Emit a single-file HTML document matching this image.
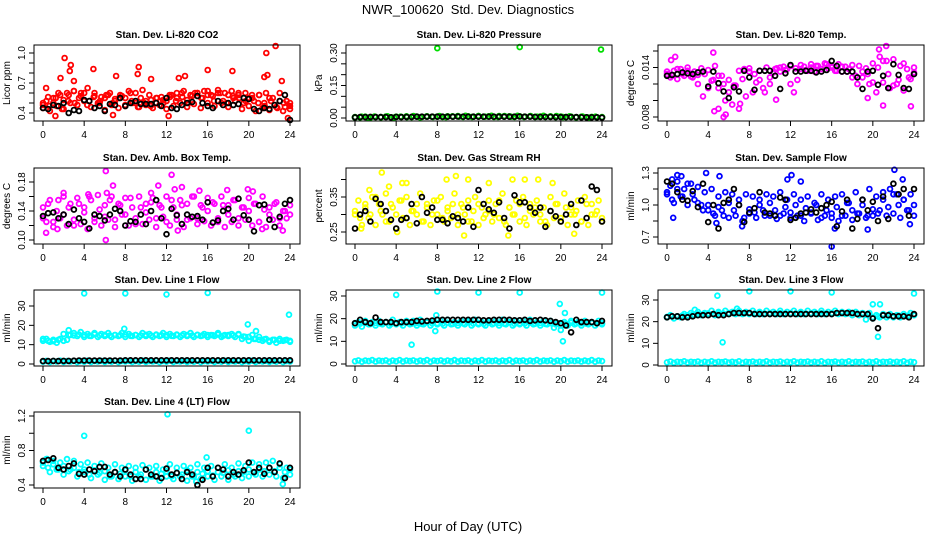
<!DOCTYPE html>
<html><head><meta charset="utf-8">
<style>
html,body{margin:0;padding:0;background:#fff;}
svg{display:block;font-family:"Liberation Sans",sans-serif;}
</style></head>
<body>
<svg id="chart" width="936" height="540" viewBox="0 0 936 540" xmlns="http://www.w3.org/2000/svg">
<rect x="0" y="0" width="936" height="540" fill="#fff"/>
<text x="468" y="14" text-anchor="middle" font-size="13" xml:space="preserve">NWR_100620  Std. Dev. Diagnostics</text>
<text x="468" y="531" text-anchor="middle" font-size="13">Hour of Day (UTC)</text>
</svg>
<script>
const xTicks = [0,4,8,12,16,20,24];
const xTickLabels = ["0","4","8","12","16","20","24"];

// CO2
const co2Color = [0.45,0.52,0.42,0.55,0.47,0.58,0.44,0.6,0.5,0.62,0.48,0.57,0.52,0.65,0.46,0.6,0.5,0.56,0.43,0.58,0.48,0.54,0.45,0.57,0.47,0.62,0.5,0.6,0.46,0.63,0.52,0.58,0.45,0.55,0.48,0.53,0.44,0.56,0.47,0.6,0.5,0.62,0.46,0.58,0.49,0.6,0.45,0.62,0.5,0.58,0.47,0.63,0.5,0.6,0.46,0.62,0.52,0.58,0.44,0.6,0.47,0.55,0.42,0.58,0.45,0.6,0.43,0.55,0.46,0.6,0.42,0.52,0.44];
const co2Color2 = [0.5,0.47,0.55,0.44,0.52,0.5,0.6,0.48,0.56,0.52,0.58,0.5,0.55,0.48,0.52,0.46,0.5,0.47,0.55,0.5,0.58,0.52,0.56,0.5,0.6,0.55,0.58,0.52,0.6,0.5,0.57,0.55,0.52,0.58,0.5,0.47,0.52,0.45,0.5,0.47];
const co2Color3 = [0.48,0.56,0.5,0.6,0.53,0.58,0.62,0.55,0.6,0.52,0.57,0.5,0.55,0.6,0.52,0.58,0.55,0.6,0.5,0.55,0.48,0.53,0.5,0.56,0.52,0.58,0.55,0.6,0.53,0.57,0.6,0.55,0.62,0.57,0.6,0.52,0.58,0.55,0.6,0.5,0.55,0.52,0.58,0.5,0.55,0.48,0.52,0.46,0.5];
const co2OutHours = [2.1,2.7,2.6,4.9,1.7,3.0,7.1,9.3,9.2,10.5,16,18.4,21.7,22.6,21.8,21.5,13.2,13.8,0.3,23.2,12.2,23.8,1.2,6.8];
const co2OutVals = [0.95,0.88,0.82,0.84,0.75,0.72,0.77,0.86,0.79,0.74,0.83,0.82,1.0,1.07,0.78,0.76,0.75,0.77,0.65,0.72,0.37,0.35,0.37,0.38];
const co2Black = [0.45,0.44,0.48,0.47,0.5,0.4,0.43,0.42,0.53,0.52,0.45,0.47,0.42,0.49,0.48,0.55,0.47,0.5,0.52,0.49,0.49,0.49,0.5,0.47,0.55,0.45,0.44,0.48,0.5,0.51,0.57,0.5,0.47,0.45,0.52,0.48,0.5,0.48,0.49,0.55,0.54,0.44,0.42,0.45,0.44,0.48,0.52,0.58,0.33];

// Pressure
const presColor = [0.002,0.006,0.001,0.007,0.003,0.008,0.002,0.006,0.004,0.009,0.003,0.007,0.005,0.009,0.004,0.008,0.006,0.01,0.005,0.009,0.006,0.01,0.005,0.009,0.006,0.01,0.005,0.009,0.006,0.01,0.006,0.009,0.004,0.008,0.003,0.007,0.002,0.006,0.003];
const presColor2 = [0.004,0.003,0.006,0.002,0.005,0.004,0.007,0.003,0.006,0.005,0.008,0.004,0.007,0.005,0.008,0.006,0.007,0.005,0.008,0.006,0.009,0.005,0.008,0.006,0.009,0.006,0.008,0.005,0.009,0.006,0.008,0.005,0.008,0.006,0.008,0.005,0.007,0.005,0.008,0.004,0.007,0.004,0.006,0.003,0.006,0.003,0.005,0.003,0.004];
const presOutHours = [8.0,16.0,23.9];
const presOutVals = [0.322,0.327,0.316];
const presBlack = [0.003,0.004,0.004,0.005,0.004,0.004,0.004,0.003,0.005,0.004,0.005,0.005,0.006,0.006,0.006,0.006,0.006,0.006,0.006,0.006,0.007,0.006,0.006,0.006,0.006,0.006,0.006,0.006,0.006,0.006,0.006,0.006,0.007,0.006,0.006,0.005,0.005,0.005,0.005,0.004,0.004,0.004,0.004,0.004,0.003,0.003,0.003,0.003,0.002];

// Li-820 temp (x 0.001)
const tempColor = [13.2,12.8,13.6,12.6,13.8,13,14,12.9,13.5,13.1,13.9,13.2,13.7,12.4,14.2,11.5,13,10,12.5,9.5,11.8,9,12.6,10.5,13.5,11,12.2,13.6,11.5,14,12.8,13.4,13.9,13.5,14.1,13.8,12,11,12.5,13.8,14.1,13.6,14.4,13.5,14.2,13.8,14.5,13.9,14.2,13.6,14.4,13.5,14.1,13.8,14.3,13,14.2,12.8,13.9,12,14.5,11,15.3,12.2,14.8,11.5,15,12,14.2,11.2,13.8,12.6,13.4];
const tempColor2 = [13.5,13,13.8,13.2,13.6,12.8,12,10.5,11.5,12.5,13,12,11,11.8,13.6,13.8,13.9,13.2,12.5,11,12,13.8,14,13.7,14.2,13.9,14.3,13.7,14,14.2,13.8,14.4,14,13.6,14.1,13.5,12.8,12,13.5,13.2,12.2,14,14.8,13.2,11.8,12.5,14.5,12.8,14];
const tempOutHours = [4.6,5.7,4.5,20.6,21.3,21.0,23.7,7.1,0.4,0.8,5.0,5.5,10.6,19.5];
const tempOutVals = [8.7,8.3,15.8,16.2,16.6,9.4,9.3,9.6,14.9,15.3,9.0,8.0,10.1,10.3];
const tempBlack = [13,13.1,13.2,13.4,13.3,13.2,13.4,13.5,11.7,13.5,12.1,11.1,10.3,11.6,11.1,13.6,12.8,11.3,13.6,13.6,13.6,13.0,11.4,13.3,14.3,13.5,13.5,13.6,13.6,13.4,13.5,13.7,14.8,14.2,13.5,13.5,13.5,12.8,11.4,13.5,13.6,11.9,13,11.5,14.4,13.1,11.5,11.4,13.2];

// Amb box temp
const ambColor = [0.145,0.125,0.155,0.118,0.14,0.13,0.16,0.12,0.15,0.128,0.158,0.122,0.145,0.115,0.155,0.13,0.162,0.12,0.148,0.128,0.16,0.118,0.15,0.135,0.158,0.12,0.145,0.13,0.16,0.122,0.15,0.128,0.158,0.118,0.148,0.132,0.16,0.12,0.145,0.128,0.155,0.118,0.15,0.13,0.16,0.122,0.148,0.126,0.158,0.12,0.15,0.13,0.16,0.118,0.148,0.125,0.155,0.12,0.145,0.128,0.158,0.12,0.15,0.125,0.16,0.118,0.145,0.128,0.152,0.12,0.14,0.13,0.148];
const ambColor2 = [0.13,0.15,0.125,0.155,0.135,0.145,0.12,0.15,0.138,0.16,0.125,0.142,0.132,0.155,0.128,0.148,0.135,0.158,0.122,0.145,0.138,0.152,0.13,0.145,0.125,0.155,0.135,0.148,0.128,0.16,0.13,0.145,0.14,0.152,0.125,0.148,0.135,0.155,0.13,0.145,0.14,0.15,0.125,0.142,0.135,0.15,0.13,0.14,0.135];
const ambOutHours = [6.1,12.5,11.2,13.5,12.8,19.9,17.9,4.4,6.8,6.2,2.0,0.3,6.1,13.1,21.3,23.3,1.4,10.5,15.2,20.4];
const ambOutVals = [0.195,0.19,0.175,0.173,0.17,0.17,0.169,0.163,0.175,0.165,0.165,0.11,0.10,0.113,0.115,0.113,0.115,0.165,0.168,0.167];
const ambBlack = [0.133,0.137,0.138,0.130,0.135,0.122,0.142,0.13,0.125,0.116,0.135,0.133,0.127,0.135,0.143,0.14,0.12,0.126,0.125,0.135,0.122,0.14,0.155,0.13,0.108,0.143,0.134,0.122,0.135,0.132,0.133,0.128,0.152,0.124,0.127,0.14,0.143,0.128,0.157,0.134,0.128,0.112,0.148,0.149,0.128,0.118,0.132,0.15,0.155];

// RH
const rhColor = [0.3,0.34,0.27,0.32,0.29,0.35,0.27,0.33,0.3,0.36,0.28,0.32,0.26,0.34,0.29,0.35,0.27,0.31,0.3,0.36,0.28,0.33,0.27,0.34,0.3,0.35,0.28,0.32,0.29,0.36,0.27,0.33,0.3,0.34,0.28,0.35,0.27,0.32,0.3,0.34,0.28,0.33,0.29,0.36,0.27,0.32,0.3,0.34,0.28,0.35,0.27,0.33,0.3,0.34,0.28,0.32,0.27,0.35,0.29,0.33,0.28,0.36,0.27,0.32,0.3,0.34,0.28,0.35,0.27,0.33,0.3,0.34,0.28];
const rhColor2 = [0.31,0.29,0.33,0.3,0.35,0.31,0.28,0.33,0.3,0.34,0.29,0.31,0.33,0.28,0.32,0.3,0.34,0.29,0.31,0.33,0.3,0.32,0.28,0.31,0.33,0.29,0.31,0.3,0.34,0.28,0.32,0.3,0.33,0.29,0.31,0.32,0.3,0.28,0.31,0.33,0.29,0.32,0.3,0.31,0.28,0.33,0.3,0.31,0.29];
const rhOutHours = [2.6,9.8,8.9,5.0,4.6,11.0,13.0,15.3,16.5,17.8,19.2,1.4,3.3,10.6,14.9,21.3,0.6,4.1];
const rhOutVals = [0.42,0.41,0.40,0.39,0.39,0.40,0.39,0.40,0.40,0.40,0.39,0.37,0.38,0.24,0.24,0.245,0.26,0.25];
const rhBlack = [0.26,0.30,0.31,0.28,0.345,0.33,0.31,0.285,0.26,0.285,0.29,0.33,0.275,0.35,0.305,0.32,0.285,0.285,0.275,0.295,0.29,0.28,0.32,0.265,0.37,0.33,0.315,0.305,0.335,0.29,0.26,0.355,0.335,0.335,0.32,0.305,0.32,0.265,0.31,0.295,0.28,0.30,0.33,0.27,0.34,0.29,0.38,0.37,0.28];

// Sample flow
const sfColor = [1.1,1.18,1.02,1.22,1.08,1.15,1.0,1.2,1.05,1.17,1.0,1.12,0.95,1.15,0.9,1.08,0.95,1.12,0.88,1.1,0.9,1.05,0.85,1.1,0.92,1.08,0.88,1.05,0.95,1.1,0.9,1.08,0.87,1.12,0.92,1.05,0.88,1.1,0.9,1.05,0.85,1.08,0.92,1.02,0.86,1.1,0.9,1.05,0.88,1.08,0.85,1.1,0.9,1.02,0.86,1.12,0.92,1.05,0.88,1.15,0.9,1.08,0.95,1.12,0.9,1.15,0.92,1.1,0.88,1.05,0.95,1.1,0.9];
const sfColor2 = [1.12,1.05,1.15,1.08,1.2,1.1,1.02,0.95,1.0,0.92,0.98,0.9,1.02,0.95,1.0,0.88,0.96,0.93,1.0,0.9,1.02,0.95,0.9,0.98,0.93,1.0,0.9,0.97,0.93,1.0,0.88,0.95,0.92,0.98,0.9,1.02,0.95,0.92,1.0,0.9,0.96,0.92,1.05,0.98,1.1,1.0,1.05,0.95,1.0];
const sfOutHours = [0.5,1.0,1.4,3.8,5.1,12.1,11.7,22.1,22.9,16.0,16.3,19.5,4.8,13.0,7.3,0.6,23.6];
const sfOutVals = [1.24,1.28,1.27,1.3,1.27,1.28,1.24,1.33,1.24,0.61,0.78,0.77,0.83,1.22,0.8,0.88,0.82];
const sfBlack = [1.22,1.2,1.12,1.05,1.04,1.13,0.98,1.2,0.84,1.0,0.78,1.02,1.05,1.15,1.0,0.84,0.93,0.97,1.12,0.93,0.92,0.9,1.07,1.05,0.86,0.88,0.92,0.93,0.96,0.93,0.97,1.0,1.03,0.8,0.94,1.05,0.78,0.87,1.05,0.95,1.03,0.85,1.08,0.87,1.2,1.1,1.15,0.9,1.15];

// Low-band values shared by line flows (ml/min)
const lowBand = [1.2,1.6,1.0,1.5,1.3,1.7,1.1,1.5,1.3,1.6,1.0,1.5,1.2,1.7,1.1,1.5,1.3,1.6,1.1,1.5,1.2,1.7,1.0,1.5,1.3,1.6,1.1,1.5,1.2,1.7,1.1,1.5,1.3,1.6,1.0,1.5,1.2,1.7,1.1,1.5,1.3,1.6,1.1,1.5,1.2,1.7,1.0,1.5,1.3,1.6,1.1,1.5,1.2,1.7,1.1,1.5,1.3,1.6,1.0,1.5,1.2,1.7,1.1,1.5,1.3,1.6,1.1,1.5,1.2,1.7,1.0,1.5,1.3];

// Line 1 flow
const l1Color = [12,13,11.5,12.5,11,13,12,12.5,15,16,14.5,16.5,14,15.5,14.5,16,14,15.5,14.5,16,14,15,14.5,16,14,15.5,14.5,15,14,16,14.5,15.5,14,15,14.5,16,14,15.5,14.5,15,14,15.5,14.5,16,14,15,14.5,15.5,14,15,14.5,16,14,15,14.5,15.5,14,15.5,13,14,12,15,13,14,12,13,11.5,12.5,11,13,12,12.5,11.5];
const l1Color2 = [13,12,11.8,12.5,15.5,15,14.8,15.2,15,14.6,15.3,14.8,15.1,14.7,15,14.9,15.2,14.6,15,14.8,15.1,14.7,15.2,14.9,15,14.6,15.2,14.8,15,14.7,15.1,14.8,15,14.9,15.2,14.6,15,14.8,15.1,14.2,14,13,12.5,12.8,12,12.5,12,12.3,12];
const l1OutHours = [4.0,8.0,12.0,16.0,23.9,19.9,7.9,20.7,2.5];
const l1OutVals = [36.5,36.5,36,36.8,25.5,20.5,18.2,17,17.5];
const l1Black = [1.5,1.5,1.6,1.5,1.6,1.6,1.7,1.8,1.8,1.8,1.8,1.8,1.8,1.8,1.8,1.8,1.9,1.9,1.9,1.9,1.9,1.9,1.9,1.9,1.9,1.9,1.9,1.9,1.9,1.9,1.9,1.9,1.9,1.9,1.9,1.9,1.9,1.9,1.9,1.9,1.9,1.9,1.9,1.9,1.9,1.9,1.9,1.9,1.9];

// Line 2 flow
const l2Color = [17,18.5,16.5,19,17.5,18.5,17,19,17.5,18.5,17,19.5,17.5,18.5,17,19,17.5,19,17,19.5,17.5,18.5,17,19,17.5,19,17,19.5,17.5,18.5,17,19,17.5,19,17,19.5,17.5,18.5,17,19,17.5,19,17,19.5,17.5,18.5,17,19,17.5,19,17,19.5,17.5,18.5,17,19,17.5,19,16,18,15,18.5,17,19,17.5,18.5,17,19,17.5,18.5,17,19,17.5];
const l2Color2 = [18,17.8,18.2,17.6,18.1,17.8,18.3,17.7,18,17.9,18.2,17.8,18.1,17.7,18.3,17.9,18,17.8,18.2,17.7,18.1,17.9,18.3,17.8,18,17.7,18.2,17.9,18.1,17.8,18.3,17.7,18,17.9,18.2,17.8,18.1,17.7,18,17.5,17,17.8,18.2,17.9,18,17.8,18.1,17.9,18];
const l2OutHours = [4.0,8.0,12.0,16.0,24.0,5.5,19.9,20.4,20.2,7.8,7.9];
const l2OutVals = [30.5,32,31.5,31.5,31.5,8.5,26.5,22.5,10,14.5,21.5];
const l2Black = [18,19.5,18.5,18,20.5,18.5,18.5,18.5,18,18.5,18.5,18.5,19,18.8,19,19.2,19.5,19.5,19.5,19.5,19.5,19.5,19.5,19.5,19.5,19.3,19.3,19.5,19.5,19.5,19.5,19.3,19.3,19.5,19,19.3,19.5,19.3,19,18.5,18,17,14,19.5,18.5,18.5,18.5,18,19];

// Line 3 flow
const l3Color = [22,23,21.5,22.5,22,23.5,22,24,23,24.5,23,24,23.5,25,23,24.5,23.5,25,23.5,24.5,23.5,25,23.5,24.5,23.5,25,23.5,24.5,23.5,25,23.5,24.5,23.5,25,23.5,24.5,23.5,25,23.5,24.5,23.5,25,23.5,24.5,23.5,25,23.5,24.5,23.5,25,23.5,24.5,23.5,24.5,23,24.5,23,24,21,24,21.5,23,22,23.5,22,23.5,22,23,22,23.5,22.5,24,23];
const l3Color2 = [22.2,22.5,22.4,22.8,23,23.2,23.5,23.4,23.8,23.6,23.9,23.7,24,23.8,23.9,23.7,24,23.8,23.9,23.7,24,23.8,23.9,23.7,24,23.8,23.9,23.7,24,23.8,23.9,23.7,24,23.8,23.9,23.7,24,23.8,23.5,23.2,22,22.5,23,22.8,22.5,22.8,22.6,22.9,23];
const l3OutHours = [4.9,5.4,8.0,12.0,16.0,20.0,20.7,20.5,24.0,2.7,6.8];
const l3OutVals = [32,10.5,34,34,33.5,28,28,13,33,25.5,26];
const l3Black = [22,22.5,22.5,22,22,22.5,23,23,23,23.5,23,23,23.5,24,24,24,24,23.5,23.5,23.5,23.5,23.5,23.5,23.5,23.5,23.5,23.5,23.5,23.5,23.5,23.5,23.5,23.5,24,24,24,24,23.5,23.5,23.5,21.5,17,23,23,22.5,22.5,22.5,22,23.5];

// Line 4 (LT) flow
const l4Color = [0.62,0.7,0.55,0.68,0.58,0.66,0.52,0.7,0.58,0.68,0.5,0.64,0.55,0.66,0.48,0.62,0.52,0.65,0.46,0.6,0.5,0.64,0.47,0.6,0.5,0.62,0.45,0.6,0.5,0.63,0.46,0.6,0.5,0.62,0.45,0.58,0.5,0.64,0.47,0.6,0.5,0.62,0.45,0.6,0.5,0.64,0.47,0.6,0.5,0.62,0.46,0.6,0.5,0.64,0.46,0.6,0.5,0.65,0.48,0.62,0.5,0.66,0.52,0.64,0.5,0.66,0.52,0.68,0.5,0.64,0.48,0.6,0.52];
const l4Color2 = [0.66,0.6,0.64,0.58,0.62,0.56,0.6,0.55,0.58,0.52,0.57,0.54,0.56,0.5,0.55,0.53,0.57,0.5,0.55,0.52,0.58,0.5,0.55,0.53,0.56,0.5,0.54,0.52,0.57,0.5,0.55,0.53,0.56,0.51,0.55,0.54,0.57,0.52,0.56,0.55,0.58,0.54,0.58,0.56,0.6,0.56,0.6,0.55,0.58];
const l4OutHours = [4.0,12.1,20.0,15.9,0.4,23.3,14.9];
const l4OutVals = [0.97,1.22,1.03,0.72,0.7,0.41,0.44];
const l4Black = [0.68,0.69,0.71,0.6,0.58,0.62,0.65,0.53,0.52,0.58,0.56,0.61,0.61,0.52,0.55,0.5,0.58,0.52,0.47,0.47,0.58,0.52,0.5,0.48,0.59,0.52,0.54,0.47,0.55,0.52,0.4,0.46,0.6,0.5,0.6,0.58,0.5,0.55,0.52,0.57,0.66,0.55,0.6,0.53,0.6,0.55,0.65,0.48,0.6];

const panels = [
 {id:"co2",title:"Stan. Dev. Li-820 CO2",ylab:"Licor ppm",col:0,row:0,color:"#ff0000",a:0.4,pa:113,b:1.0,pb:53,ticks:[0.4,0.5,0.6,0.7,0.8,0.9,1.0],labels:{"0.4":"0.4","0.7":"0.7","1":"1.0"},series:[co2Color,co2Color2,co2Color3],oh:co2OutHours,ov:co2OutVals,black:co2Black},
 {id:"pressure",title:"Stan. Dev. Li-820 Pressure",ylab:"kPa",col:1,row:0,color:"#00dd00",a:0,pa:118,b:0.30,pb:53,ticks:[0,0.05,0.1,0.15,0.2,0.25,0.3],labels:{"0":"0.00","0.15":"0.15","0.3":"0.30"},series:[presColor,presColor2],oh:presOutHours,ov:presOutVals,black:presBlack},
 {id:"li820-temp",title:"Stan. Dev. Li-820 Temp.",ylab:"degrees C",col:2,row:0,color:"#ff00ff",a:8,pa:117,b:16,pb:51,ticks:[8,10,12,14,16],labels:{"8":"0.008","14":"0.014"},series:[tempColor,tempColor2],oh:tempOutHours,ov:tempOutVals,black:tempBlack},
 {id:"amb-box-temp",title:"Stan. Dev. Amb. Box Temp.",ylab:"degrees C",col:0,row:1,color:"#ff00ff",a:0.10,pa:240,b:0.18,pb:182,ticks:[0.10,0.12,0.14,0.16,0.18],labels:{"0.1":"0.10","0.14":"0.14","0.18":"0.18"},series:[ambColor,ambColor2],oh:ambOutHours,ov:ambOutVals,black:ambBlack},
 {id:"gas-stream-rh",title:"Stan. Dev. Gas Stream RH",ylab:"percent",col:1,row:1,color:"#ffff00",a:0.25,pa:232,b:0.35,pb:197,ticks:[0.25,0.30,0.35,0.40],labels:{"0.25":"0.25","0.35":"0.35"},series:[rhColor,rhColor2],oh:rhOutHours,ov:rhOutVals,black:rhBlack},
 {id:"sample-flow",title:"Stan. Dev. Sample Flow",ylab:"ml/min",col:2,row:1,color:"#0000ff",a:0.7,pa:237,b:1.3,pb:173,ticks:[0.7,0.85,1.0,1.15,1.3],labels:{"0.7":"0.7","1":"1.0","1.3":"1.3"},series:[sfColor,sfColor2],oh:sfOutHours,ov:sfOutVals,black:sfBlack},
 {id:"line1-flow",title:"Stan. Dev. Line 1 Flow",ylab:"ml/min",col:0,row:2,color:"#00ffff",a:0,pa:364,b:30,pb:306,ticks:[0,10,20,30],labels:{"0":"0","10":"10","20":"20","30":"30"},series:[l1Color,l1Color2,lowBand],oh:l1OutHours,ov:l1OutVals,black:l1Black},
 {id:"line2-flow",title:"Stan. Dev. Line 2 Flow",ylab:"ml/min",col:1,row:2,color:"#00ffff",a:0,pa:364,b:30,pb:296,ticks:[0,10,20,30],labels:{"0":"0","10":"10","20":"20","30":"30"},series:[l2Color,l2Color2,lowBand],oh:l2OutHours,ov:l2OutVals,black:l2Black},
 {id:"line3-flow",title:"Stan. Dev. Line 3 Flow",ylab:"ml/min",col:2,row:2,color:"#00ffff",a:0,pa:365,b:30,pb:300,ticks:[0,10,20,30],labels:{"0":"0","10":"10","20":"20","30":"30"},series:[l3Color,l3Color2,lowBand],oh:l3OutHours,ov:l3OutVals,black:l3Black},
 {id:"line4-flow",title:"Stan. Dev. Line 4 (LT) Flow",ylab:"ml/min",col:0,row:3,color:"#00ffff",a:0.4,pa:485,b:1.2,pb:416,ticks:[0.4,0.6,0.8,1.0,1.2],labels:{"0.4":"0.4","0.8":"0.8","1.2":"1.2"},series:[l4Color,l4Color2],oh:l4OutHours,ov:l4OutVals,black:l4Black}
];

const NS = "http://www.w3.org/2000/svg";
const svg = document.getElementById("chart");
const colLeft = [34,346,658], rowTop = [45,168,290,412], boxW = 266, boxH = 76;

function mk(tag, attrs, parent){
  const e = document.createElementNS(NS, tag);
  for (const k in attrs) e.setAttribute(k, attrs[k]);
  parent.appendChild(e);
  return e;
}

panels.forEach(p => {
  const L = colLeft[p.col], T = rowTop[p.row];
  const xs = h => L + 9 + h * (247 / 24);
  const ys = v => p.pa + (v - p.a) * (p.pb - p.pa) / (p.b - p.a);
  const g = mk("g", {}, svg);
  
  

  const t = mk("text", {x: L + boxW/2, y: T - 7, "text-anchor":"middle", "font-size":"10", "font-weight":"bold"}, g);
  t.textContent = p.title;
  
  

  const yl = mk("text", {x: 0, y: 0, "text-anchor":"middle", "font-size":"10", transform:`translate(${L-24},${T+boxH/2}) rotate(-90)`}, g);
  yl.textContent = p.ylab;
  
  

  const pts = mk("g", {fill:"none", "stroke-width":"1.8"}, g);
  
  
  p.series.forEach(s => {
    s.forEach((v, i) => {
      const h = i * 24 / (s.length - 1);
      const c = mk("circle", {cx: xs(h).toFixed(1), cy: ys(v).toFixed(1), r: 2.4, stroke: p.color}, pts);
      
      
    });
  });
  p.oh.forEach((h, i) => {
    const c = mk("circle", {cx: xs(h).toFixed(1), cy: ys(p.ov[i]).toFixed(1), r: 2.4, stroke: p.color}, pts);
    
    
  });
  p.black.forEach((v, i) => {
    const h = i * 24 / (p.black.length - 1);
    const c = mk("circle", {cx: xs(h).toFixed(1), cy: ys(v).toFixed(1), r: 2.4, stroke: "#000"}, pts);
    
    
  });

  const box = mk("rect", {x: L, y: T, width: boxW, height: boxH, fill:"none", stroke:"#000", "stroke-width":"1"}, g);
  
  

  const xa = mk("g", {}, g);
  
  
  mk("line", {x1: xs(0), x2: xs(24), y1: T+boxH, y2: T+boxH, stroke:"#000"}, xa);
  xTicks.forEach((h, i) => {
    mk("line", {x1: xs(h), x2: xs(h), y1: T+boxH, y2: T+boxH+5, stroke:"#000"}, xa);
    const tl = mk("text", {x: xs(h), y: T+boxH+17, "text-anchor":"middle", "font-size":"10"}, xa);
    tl.textContent = xTickLabels[i];
    
    
  });
  const ya = mk("g", {}, g);
  
  
  mk("line", {x1: L, x2: L, y1: ys(p.ticks[0]), y2: ys(p.ticks[p.ticks.length-1]), stroke:"#000"}, ya);
  p.ticks.forEach(v => {
    const y = ys(v);
    mk("line", {x1: L-5, x2: L, y1: y, y2: y, stroke:"#000"}, ya);
    const key = String(+v.toFixed(4));
    if (p.labels[key] !== undefined) {
      const tl = mk("text", {x: 0, y: 0, "text-anchor":"middle", "font-size":"10", transform:`translate(${L-9},${y}) rotate(-90)`}, ya);
      tl.textContent = p.labels[key];
      
      
    }
  });
});
</script>
</body></html>
